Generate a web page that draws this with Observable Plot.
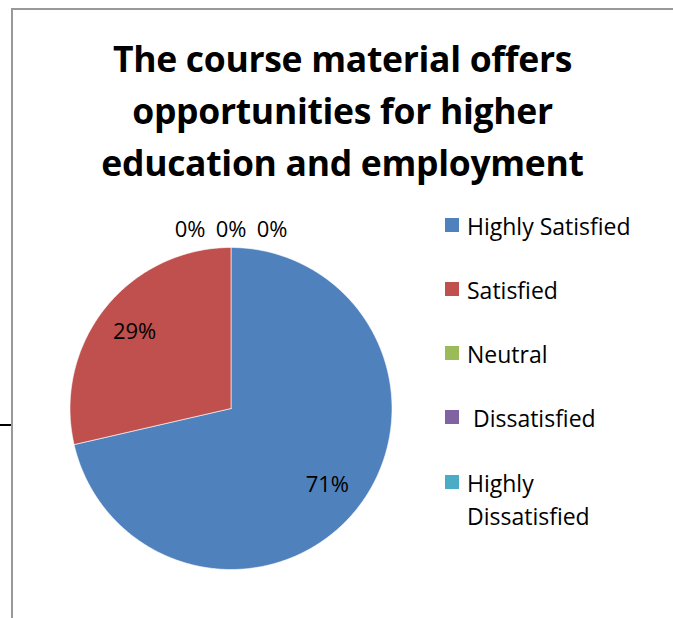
<!DOCTYPE html>
<html>
<head>
<meta charset="utf-8">
<script src="https://cdn.jsdelivr.net/npm/d3@7"></script>
<script src="https://cdn.jsdelivr.net/npm/@observablehq/plot@0.6"></script>
<style>
  html, body { margin: 0; padding: 0; background: #fff; }
  #wrap { position: relative; width: 673px; height: 618px; overflow: hidden; font-family: "Open Sans", sans-serif; font-variant-ligatures: none; }
  #wrap svg { position: absolute; left: 0; top: 0; }
  #title { position: absolute; left: 12px; width: 661px; top: 32px; text-align: center; font-weight: bold; font-size: 35.5px; line-height: 52px; color: #000; letter-spacing: -0.3px; }
  .frameTop { position: absolute; left: 11px; top: 8px; width: 662px; height: 2px; background: #999; }
  .frameLeft { position: absolute; left: 11px; top: 8px; width: 2px; height: 610px; background: #999; }
  .tick { position: absolute; left: 0; top: 424px; width: 11px; height: 2px; background: #000; }
  #legend { position: absolute; left: 445px; top: 0; font-size: 23px; color: #000; }
  .item { position: absolute; left: 0; white-space: nowrap; }
  .sw { position: absolute; left: 0; width: 14px; height: 14px; }
  .lab { position: absolute; left: 22px; line-height: 33px; white-space: pre; }
</style>
</head>
<body>
<div id="wrap">
  <div class="frameTop"></div>
  <div class="frameLeft"></div>
  <div class="tick"></div>
  <div id="title">The course material offers<br>opportunities for higher<br>education and employment</div>
  <div id="legend"></div>
</div>
<script>
const categories = ["Highly Satisfied", "Satisfied", "Neutral", " Dissatisfied", "Highly\nDissatisfied"];
const shares = [71.4, 28.6, 0, 0, 0];
const labels = ["71%", "29%", "0%", "0%", "0%"];
const colors = ["#4F81BD", "#C0504D", "#9BBB59", "#8064A2", "#4BACC6"];

const W = 673, H = 618;
const cx = 230.5, cy = 408, R = 161;

const pie = d3.pie().sort(null).value(d => d.v)(categories.map((c, i) => ({c, v: shares[i], i})));

// Build polygon outlines (unit circle coordinates, angle clockwise from top)
const poly = [];
for (const a of pie) {
  if (a.endAngle - a.startAngle <= 0) continue;
  const n = Math.max(2, Math.ceil((a.endAngle - a.startAngle) / 0.01));
  poly.push({c: a.data.c, x: 0, y: 0});
  for (let j = 0; j <= n; j++) {
    const t = a.startAngle + (a.endAngle - a.startAngle) * j / n;
    poly.push({c: a.data.c, x: Math.sin(t), y: Math.cos(t)});
  }
  poly.push({c: a.data.c, x: 0, y: 0});
}

// Label positions (zero slices are spread sideways above the pie)
const zeroOffsets = [-41, 0, 41];
let zi = 0;
const lab = pie.map((a, i) => {
  const mid = (a.startAngle + a.endAngle) / 2;
  if (a.data.v > 0) {
    return {t: labels[i], x: 0.765 * Math.sin(mid), y: 0.765 * Math.cos(mid)};
  }
  return {t: labels[i], x: 1.11 * Math.sin(mid) + zeroOffsets[zi++] / R, y: 1.11 * Math.cos(mid)};
});

const chart = Plot.plot({
  width: W, height: H,
  margin: 0,
  x: {domain: [-cx / R, (W - cx) / R], range: [0, W], axis: null},
  y: {domain: [-(H - cy) / R, cy / R], range: [H, 0], axis: null},
  color: {domain: categories, range: colors},
  style: {background: "transparent", fontFamily: "'Open Sans', sans-serif"},
  marks: [
    Plot.line(poly, {x: "x", y: "y", z: "c", fill: "c", stroke: "#fff", strokeWidth: 0.6, curve: "linear"}),
    Plot.text(lab, {x: "x", y: "y", text: "t", fontSize: 22, fill: "#000"})
  ]
});
document.getElementById("wrap").prepend(chart);

// Legend
const legend = document.getElementById("legend");
const rowY = [226, 290, 354, 418, 483];
categories.forEach((c, i) => {
  const it = document.createElement("div");
  it.className = "item";
  it.style.top = (rowY[i] - 16) + "px";
  const sw = document.createElement("div");
  sw.className = "sw";
  sw.style.background = colors[i];
  sw.style.top = "8px";
  const tx = document.createElement("div");
  tx.className = "lab";
  tx.textContent = c;
  it.appendChild(sw);
  it.appendChild(tx);
  legend.appendChild(it);
});
</script>
</body>
</html>
